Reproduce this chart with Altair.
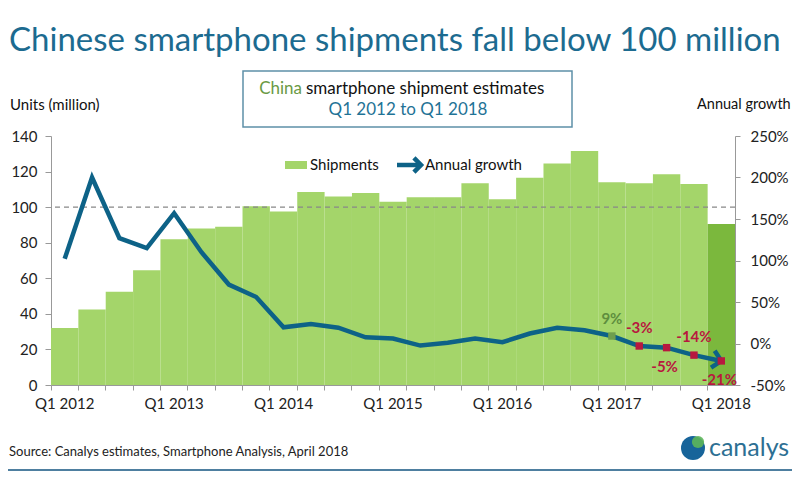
import altair as alt
import pandas as pd

quarters = [
    "Q1 2012", "Q2 2012", "Q3 2012", "Q4 2012",
    "Q1 2013", "Q2 2013", "Q3 2013", "Q4 2013",
    "Q1 2014", "Q2 2014", "Q3 2014", "Q4 2014",
    "Q1 2015", "Q2 2015", "Q3 2015", "Q4 2015",
    "Q1 2016", "Q2 2016", "Q3 2016", "Q4 2016",
    "Q1 2017", "Q2 2017", "Q3 2017", "Q4 2017",
    "Q1 2018",
]
shipments = [32, 42.5, 52.5, 64.5, 82, 88, 89, 100.5, 97.5, 108.5, 106, 108,
             103, 105.5, 105.5, 113.5, 104.5, 116.5, 124.5, 131.5, 114, 113.5,
             118.5, 113, 90.5]
growth = [102, 200, 127, 115, 157, 110, 71, 56, 19.5, 23.5, 19, 7.5, 6, -2.5,
          1, 6, 1.5, 12, 19, 16, 9, -3, -5, -14, -21]
growth_labels = [""] * 20 + ["9%", "-3%", "-5%", "-14%", "-21%"]

left_ticks = [0, 20, 40, 60, 80, 100, 120, 140]
right_ticks = [-50, 0, 50, 100, 150, 200, 250]

FONT = "Lato"
LIGHT = "#A4D56A"
DARK = "#7BB83D"
TEAL = "#0D6287"
TITLE_C = "#1C6B90"
CRIMSON = "#B8183F"
GREENLBL = "#5E8E3E"
AXC = "#999999"

W, H = 684, 249
L, T = 51, 136


def px(x):
    return x - L


def py(y):
    return y - T


df = pd.DataFrame({"quarter": quarters, "shipments": shipments,
                   "growth": growth, "label": growth_labels})
base = alt.Chart(df)

x_enc = alt.X(
    "quarter:N", sort=quarters,
    scale=alt.Scale(paddingInner=0, paddingOuter=0),
    axis=alt.Axis(title=None, bandPosition=0,
                  labelExpr="substring(datum.label, 0, 2) == 'Q1' ? datum.label : ''",
                  labelAngle=0, labelOverlap=False, tickSize=5, labelPadding=6,
                  domainColor=AXC, tickColor=AXC, labelFont=FONT,
                  labelFontSize=15, labelColor="#222"),
)

left_axis = alt.Axis(title=None, values=left_ticks, tickSize=6, labelPadding=8,
                     labelOverlap=False, domainColor=AXC, tickColor=AXC,
                     labelFont=FONT, labelFontSize=15, labelColor="#222", grid=False)
left_scale = alt.Scale(domain=[0, 140], nice=False)
y_left = alt.Y("shipments:Q", scale=left_scale, axis=left_axis)

y_right = alt.Y(
    "growth:Q", scale=alt.Scale(domain=[-50, 250], nice=False),
    axis=alt.Axis(title=None, orient="right", values=right_ticks,
                  labelExpr="datum.value + '%'", tickSize=5, labelPadding=10,
                  labelOverlap=False, domainColor=AXC, tickColor=AXC,
                  labelFont=FONT, labelFontSize=15, labelColor="#222", grid=False),
)

bars = base.mark_bar().encode(
    x=x_enc, y=y_left,
    color=alt.condition("datum.quarter == 'Q1 2018'", alt.value(DARK), alt.value(LIGHT)),
)
ref = alt.Chart(alt.Data(values=[{}])).mark_rule(
    color="#888", strokeDash=[5, 4], strokeWidth=1.2).encode(
    y=alt.YDatum(datum=100, scale=left_scale, axis=left_axis))
bar_layer = alt.layer(bars, ref)

line = base.mark_line(color=TEAL, strokeWidth=4.5).encode(x=x_enc, y=y_right)
arrow = base.transform_filter("datum.quarter == 'Q1 2018'").mark_point(
    shape="M-1,-1L0,0L-1,1", size=300, filled=False, strokeWidth=4.5,
    color=TEAL, opacity=1, angle=12).encode(x=x_enc, y=y_right)
squares = base.transform_filter("datum.label != ''").mark_square(
    size=55, opacity=1).encode(
    x=x_enc, y=y_right,
    color=alt.condition("datum.label == '9%'", alt.value("#6E9E4E"), alt.value(CRIMSON)),
)
lbl_green = base.transform_filter("datum.label == '9%'").mark_text(
    font=FONT, fontSize=15, fontWeight="bold", color=GREENLBL, dy=-17).encode(
    x=x_enc, y=y_right, text="label:N")
lbl_up = base.transform_filter("datum.label == '-3%' || datum.label == '-14%'").mark_text(
    font=FONT, fontSize=15, fontWeight="bold", color=CRIMSON, dy=-18).encode(
    x=x_enc, y=y_right, text="label:N")
lbl_down = base.transform_filter("datum.label == '-5%' || datum.label == '-21%'").mark_text(
    font=FONT, fontSize=15, fontWeight="bold", color=CRIMSON, dy=19, dx=-2).encode(
    x=x_enc, y=y_right, text="label:N")
line_layer = alt.layer(line, arrow, squares, lbl_green, lbl_up, lbl_down)

one = alt.Data(values=[{}])


def txt(s, x, y, size, color="#111", align="left", weight="normal"):
    return alt.Chart(one).mark_text(
        text=s, align=align, baseline="middle", fontSize=size, color=color,
        fontWeight=weight, font=FONT).encode(x=alt.value(px(x)), y=alt.value(py(y)))


annots = [
    txt("Chinese smartphone shipments fall below 100 million", 9, 41, 33, TITLE_C),
    alt.Chart(one).mark_rect(fill="white", stroke="#5E90A8", strokeWidth=1.5).encode(
        x=alt.value(px(243)), x2=alt.value(px(572)), y=alt.value(py(71)), y2=alt.value(py(127))),
    txt("China", 302, 89, 17, "#6A9A45", align="right"),
    txt("smartphone shipment estimates", 306, 89, 17, "#111"),
    txt("Q1 2012 to Q1 2018", 408, 110, 17, "#1F7396", align="center"),
    txt("Units (million)", 10, 105, 15),
    txt("Annual growth", 697, 105, 14.5),
    alt.Chart(one).mark_rect(fill=LIGHT).encode(
        x=alt.value(px(285)), x2=alt.value(px(307)), y=alt.value(py(161)), y2=alt.value(py(169))),
    txt("Shipments", 310, 165, 15),
    alt.Chart(one).mark_rule(color=TEAL, strokeWidth=4.5).encode(
        x=alt.value(px(397)), x2=alt.value(px(418)), y=alt.value(py(165))),
    alt.Chart(one).mark_point(shape="M-1,-1L0,0L-1,1", size=200, filled=False,
                              strokeWidth=4.5, color=TEAL, opacity=1).encode(
        x=alt.value(px(421)), y=alt.value(py(165))),
    txt("Annual growth", 425, 165, 15),
    txt("Source: Canalys estimates, Smartphone Analysis, April 2018", 9, 452, 13, "#222"),
    alt.Chart(one).mark_point(shape="circle", size=576, filled=True, color="#17649A", opacity=1).encode(
        x=alt.value(px(693)), y=alt.value(py(448))),
    alt.Chart(one).mark_point(shape="circle", size=150, filled=True, color="#5DB55A", opacity=0.9).encode(
        x=alt.value(px(698)), y=alt.value(py(442))),
    txt("canalys", 709, 448, 25, "#2D6F93"),
    alt.Chart(one).mark_rule(color="#4E7FA0", strokeWidth=2).encode(
        x=alt.value(px(8)), x2=alt.value(px(792)), y=alt.value(py(470))),
]

chart = alt.layer(bar_layer, line_layer, *annots).resolve_scale(
    y="independent"
).properties(
    width=W, height=H,
    padding={"left": L - 8, "top": T - 8, "right": 784 - (L - 8) - W, "bottom": 464 - (T - 8) - H},
    autosize=alt.AutoSizeParams(type="none"),
).configure_view(stroke=None).configure_axis(grid=False)

chart.save("out.html", embed_options={"renderer": "svg", "actions": False})
